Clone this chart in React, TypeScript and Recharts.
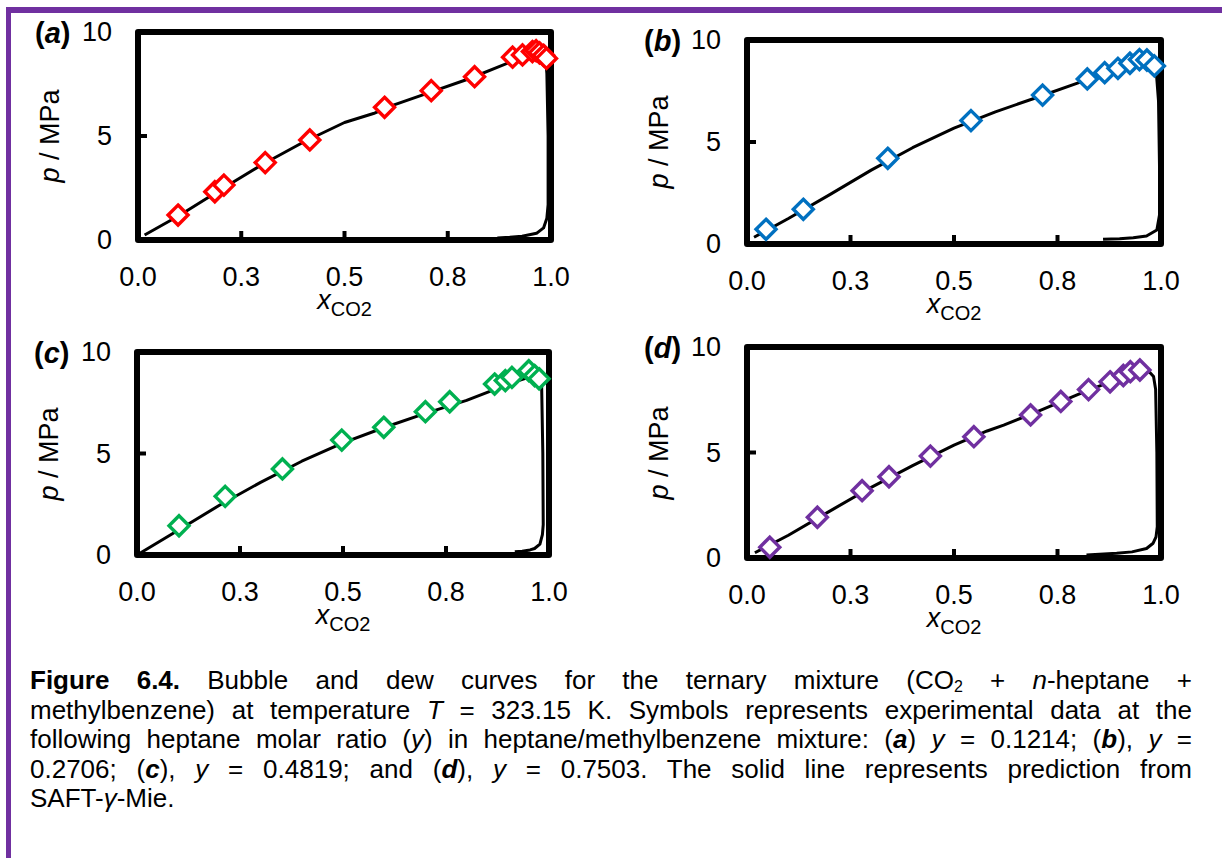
import React from 'react'
import { ScatterChart, Scatter, XAxis, YAxis, ReferenceArea } from 'recharts'

const FONT = '"Liberation Sans", Arial, sans-serif'
const PURPLE = '#7030A0'

const X_TICKS = [0, 0.25, 0.5, 0.75, 1]
const P_TICKS = [0, 5, 10]

// (a) heptane ratio y = 0.1214
const A_EXP_X = [0.097, 0.186, 0.208, 0.308, 0.416, 0.597, 0.71, 0.815, 0.907, 0.931, 0.955, 0.964, 0.972, 0.982, 0.989]
const A_EXP_P = [1.2, 2.32, 2.64, 3.72, 4.81, 6.38, 7.18, 7.85, 8.79, 8.9, 9.06, 9.1, 9.0, 8.88, 8.73]
const A_LINE_X = [0.016, 0.1, 0.2, 0.3, 0.4, 0.5, 0.57, 0.62, 0.7, 0.8, 0.9, 0.95, 0.975, 0.987, 0.99, 0.993, 0.993, 0.99, 0.982, 0.965, 0.93, 0.9, 0.87]
const A_LINE_P = [0.24, 1.18, 2.42, 3.62, 4.7, 5.65, 6.08, 6.5, 7.05, 7.74, 8.54, 8.85, 8.92, 8.75, 8.0, 5.0, 1.7, 1.05, 0.58, 0.32, 0.18, 0.13, 0.1]

// (b) y = 0.2706
const B_EXP_X = [0.046, 0.136, 0.34, 0.541, 0.714, 0.822, 0.864, 0.896, 0.925, 0.948, 0.966, 0.984]
const B_EXP_P = [0.72, 1.7, 4.2, 6.05, 7.3, 8.09, 8.4, 8.61, 8.86, 9.04, 9.02, 8.73]
const B_LINE_X = [0.017, 0.1, 0.2, 0.3, 0.4, 0.5, 0.6, 0.7, 0.8, 0.9, 0.95, 0.975, 0.988, 0.994, 0.997, 0.997, 0.99, 0.965, 0.933, 0.9, 0.86]
const B_LINE_P = [0.33, 1.25, 2.42, 3.62, 4.72, 5.68, 6.48, 7.18, 7.9, 8.58, 8.9, 8.95, 8.6, 7.0, 3.0, 1.5, 0.69, 0.39, 0.31, 0.26, 0.23]

// (c) y = 0.4819
const C_EXP_X = [0.102, 0.214, 0.353, 0.497, 0.599, 0.7, 0.759, 0.868, 0.894, 0.91, 0.951, 0.965, 0.976]
const C_EXP_P = [1.44, 2.89, 4.24, 5.66, 6.29, 7.06, 7.55, 8.42, 8.59, 8.75, 9.08, 8.84, 8.68]
const C_LINE_X = [0.0, 0.1, 0.2, 0.3, 0.4, 0.5, 0.6, 0.7, 0.8, 0.88, 0.93, 0.96, 0.975, 0.982, 0.985, 0.986, 0.984, 0.978, 0.965, 0.954, 0.935, 0.917]
const C_LINE_P = [0.0, 1.22, 2.45, 3.58, 4.62, 5.52, 6.28, 6.98, 7.62, 8.25, 8.62, 8.82, 8.85, 8.5, 5.0, 1.5, 1.0, 0.54, 0.32, 0.25, 0.19, 0.16]

// (d) y = 0.7503
const D_EXP_X = [0.055, 0.17, 0.278, 0.343, 0.443, 0.548, 0.685, 0.758, 0.825, 0.877, 0.909, 0.926, 0.949]
const D_EXP_P = [0.51, 1.93, 3.19, 3.85, 4.83, 5.75, 6.78, 7.42, 7.98, 8.35, 8.65, 8.83, 8.91]
const D_LINE_X = [0.019, 0.1, 0.2, 0.3, 0.4, 0.5, 0.58, 0.62, 0.7, 0.8, 0.9, 0.95, 0.972, 0.982, 0.987, 0.99, 0.991, 0.988, 0.981, 0.965, 0.93, 0.893, 0.82]
const D_LINE_P = [0.25, 1.08, 2.22, 3.35, 4.38, 5.35, 6.02, 6.3, 6.92, 7.75, 8.52, 8.86, 8.82, 8.6, 8.0, 5.0, 1.48, 1.0, 0.7, 0.45, 0.29, 0.22, 0.14]

type Pt = { x: number; y: number }
const zip = (xs: number[], ps: number[]): Pt[] => xs.map((x, i) => ({ x, y: ps[i] }))

const PANELS = [
  { tag: 'a', color: '#FF0000', exp: zip(A_EXP_X, A_EXP_P), line: zip(A_LINE_X, A_LINE_P) },
  { tag: 'b', color: '#0070C0', exp: zip(B_EXP_X, B_EXP_P), line: zip(B_LINE_X, B_LINE_P) },
  { tag: 'c', color: '#00B050', exp: zip(C_EXP_X, C_EXP_P), line: zip(C_LINE_X, C_LINE_P) },
  { tag: 'd', color: '#7030A0', exp: zip(D_EXP_X, D_EXP_P), line: zip(D_LINE_X, D_LINE_P) },
]

// plot-area rectangles on the page
const BOXES = [
  { left: 138, top: 32, width: 413, height: 208 },
  { left: 747, top: 40, width: 414, height: 204 },
  { left: 137, top: 352, width: 412, height: 203 },
  { left: 747, top: 347, width: 414, height: 211 },
]

const M = { top: 30, right: 20, bottom: 30, left: 60 }
const Y_W = 70
const X_H = 60

const XTick = (props: any) => {
  const { x, y, payload } = props
  const v = payload.value
  return (
    <g>
      {v > 0 && v < 1 && <line x1={x} x2={x} y1={y} y2={y - 9} stroke="#000" strokeWidth={4} />}
      <text x={x} y={y + 37} textAnchor="middle" dominantBaseline="central" fontSize={27} fontFamily={FONT} fill="#000">
        {v.toFixed(1)}
      </text>
    </g>
  )
}

const YTick = (props: any) => {
  const { x, y, payload } = props
  const v = payload.value
  return (
    <g>
      {v > 0 && v < 10 && <line x1={x} x2={x + 9} y1={y} y2={y} stroke="#000" strokeWidth={4} />}
      <text x={x - 26} y={y} textAnchor="end" dominantBaseline="central" fontSize={27} fontFamily={FONT} fill="#000">
        {v}
      </text>
    </g>
  )
}

const diamond = (color: string) => (props: any) => {
  const { cx, cy } = props
  const r = 10
  return (
    <path
      d={`M${cx},${cy - r}L${cx + r},${cy}L${cx},${cy + r}L${cx - r},${cy}Z`}
      fill="#fff"
      stroke={color}
      strokeWidth={3.4}
    />
  )
}

const noDot = () => <g />

function Panel({ idx }: { idx: number }) {
  const p = PANELS[idx]
  const b = BOXES[idx]
  const w = b.width + M.left + Y_W + M.right
  const h = b.height + M.top + X_H + M.bottom
  const cx = b.left + b.width / 2
  const cy = b.top + b.height / 2
  return (
    <>
      <div style={{ position: 'absolute', left: b.left - M.left - Y_W, top: b.top - M.top }}>
        <ScatterChart width={w} height={h} margin={M}>
          <XAxis
            type="number"
            dataKey="x"
            domain={[0, 1]}
            ticks={X_TICKS}
            interval={0}
            height={X_H}
            axisLine={false}
            tickLine={false}
            tickSize={0}
            tickMargin={0}
            tick={XTick}
          />
          <YAxis
            type="number"
            dataKey="y"
            domain={[0, 10]}
            ticks={P_TICKS}
            interval={0}
            width={Y_W}
            axisLine={false}
            tickLine={false}
            tickSize={0}
            tickMargin={0}
            tick={YTick}
          />
          <ReferenceArea x1={0} x2={1} y1={0} y2={10} fill="none" stroke="#000" strokeWidth={6} strokeLinejoin="round" />
          <Scatter
            data={p.line}
            line={{ stroke: '#000', strokeWidth: 3, strokeLinejoin: 'round' }}
            lineJointType="linear"
            shape={noDot}
            isAnimationActive={false}
          />
          <Scatter data={p.exp} shape={diamond(p.color)} isAnimationActive={false} />
        </ScatterChart>
      </div>
      {/* panel tag */}
      <div
        style={{
          position: 'absolute',
          left: b.left - 103,
          top: b.top + 1,
          transform: 'translateY(-50%)',
          fontFamily: FONT,
          fontSize: 29,
          fontWeight: 700,
          lineHeight: 1,
        }}
      >
        (<i>{p.tag}</i>)
      </div>
      {/* y title */}
      <div
        style={{
          position: 'absolute',
          left: b.left - 88,
          top: cy,
          transform: 'translate(-50%, -50%) rotate(-90deg)',
          fontFamily: FONT,
          fontSize: 27,
          whiteSpace: 'nowrap',
          lineHeight: 1,
        }}
      >
        <i>p</i> / MPa
      </div>
      {/* x title */}
      <div
        style={{
          position: 'absolute',
          left: cx,
          top: b.top + b.height + 63,
          transform: 'translate(-50%, -50%)',
          fontFamily: FONT,
          fontSize: 27,
          whiteSpace: 'nowrap',
          lineHeight: 1,
        }}
      >
        <i>x</i>
        <sub style={{ fontSize: 20, verticalAlign: -7 }}>CO2</sub>
      </div>
    </>
  )
}

const just: React.CSSProperties = { textAlign: 'justify', textAlignLast: 'justify' }

function Caption() {
  return (
    <div
      style={{
        position: 'absolute',
        left: 30,
        top: 666,
        width: 1162,
        fontFamily: FONT,
        fontSize: 26,
        lineHeight: '29.5px',
        color: '#000',
      }}
    >
      <div style={just}>
        <b>Figure 6.4.</b> Bubble and dew curves for the ternary mixture (CO
        <span style={{ fontSize: 16, lineHeight: 1, verticalAlign: -3 }}>2</span> + <i>n</i>-heptane +
      </div>
      <div style={just}>
        methylbenzene) at temperature <i>T</i> = 323.15 K. Symbols represents experimental data at the
      </div>
      <div style={just}>
        following heptane molar ratio (<i>y</i>) in heptane/methylbenzene mixture: (<b><i>a</i></b>) <i>y</i> = 0.1214; (<b><i>b</i></b>), <i>y</i> =
      </div>
      <div style={just}>
        0.2706; (<b><i>c</i></b>), <i>y</i> = 0.4819; and (<b><i>d</i></b>), <i>y</i> = 0.7503. The solid line represents prediction from
      </div>
      <div>
        SAFT-<i>γ</i>-Mie.
      </div>
    </div>
  )
}

export default function App() {
  return (
    <div style={{ position: 'absolute', left: 0, top: 0, width: 1222, height: 858, background: '#fff', overflow: 'hidden' }}>
      <div style={{ position: 'absolute', left: 6, top: 7, width: 1216, height: 6, background: PURPLE }} />
      <div style={{ position: 'absolute', left: 6, top: 7, width: 5, height: 851, background: PURPLE }} />
      {PANELS.map((_, i) => (
        <Panel key={i} idx={i} />
      ))}
      <Caption />
    </div>
  )
}
